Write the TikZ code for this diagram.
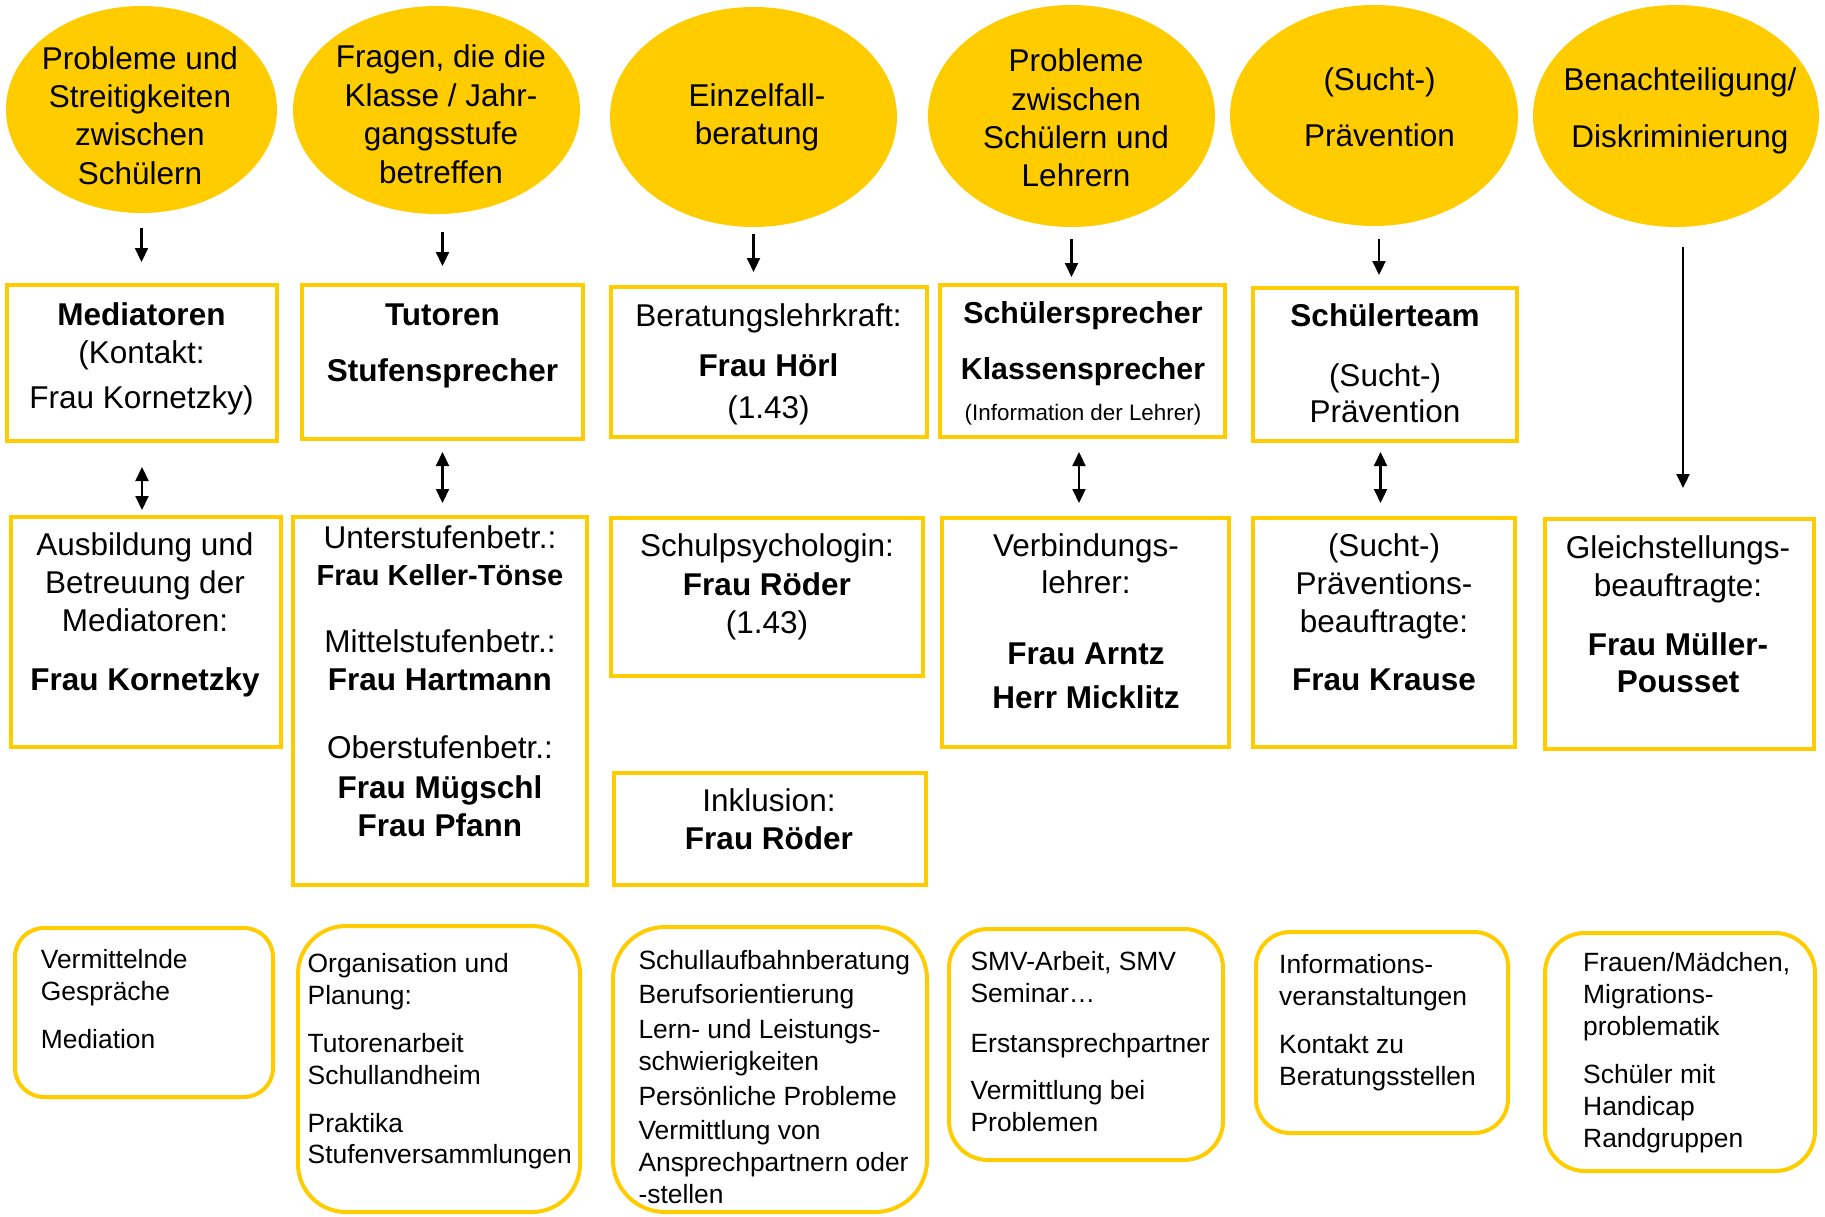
\documentclass[tikz,border=0pt]{standalone}
\usepackage{fontspec}
\setmainfont{Liberation Sans}
\usetikzlibrary{shapes.geometric,arrows.meta}
\definecolor{gelb}{HTML}{FFCC00}
\newcommand{\FL}{\rule{0pt}{1em}}
\begin{document}
\begin{tikzpicture}[x=1pt,y=-1pt,
  ell/.style={ellipse, fill=gelb, draw=none, inner sep=0pt},
  rbox/.style={rectangle, draw=gelb, line width=4pt, inner sep=0pt},
  qbox/.style={rectangle, rounded corners=#1, draw=gelb, line width=4pt, inner sep=0pt},
  tc/.style={anchor=north, align=center, inner sep=0pt, text=black},
  tl/.style={anchor=north west, align=left, inner sep=0pt, text=black},
  fsz/.style 2 args={font={\fontsize{#1}{#2}\selectfont}},
  arr/.style={-{Triangle[length=14pt,width=13pt]}, line width=2.2pt},
  darr/.style={{Triangle[length=14pt,width=13pt]}-{Triangle[length=14pt,width=13pt]}, line width=2.2pt}]
\useasboundingbox (0,0) rectangle (1825,1217);

% ---- ellipses ----
\node[ell, minimum width=271pt, minimum height=207pt] (e1) at (141.5,109.5) {};
\node[ell, minimum width=287pt, minimum height=208pt] (e2) at (436.5,110) {};
\node[ell, minimum width=287pt, minimum height=220pt] (e3) at (753.5,117) {};
\node[ell, minimum width=287pt, minimum height=222pt] (e4) at (1071.5,116) {};
\node[ell, minimum width=288pt, minimum height=221pt] (e5) at (1374,115.5) {};
\node[ell, minimum width=286pt, minimum height=222pt] (e6) at (1676,116) {};

\node[tc, fsz={31.5}{38.3}] (e1t) at (140,37.5) {\FL Probleme und\\Streitigkeiten\\zwischen\\Schülern};
\node[tc, fsz={31.5}{38.5}] (e2t) at (441,36.2) {\FL Fragen, die die\\Klasse / Jahr-\\gangsstufe\\betreffen};
\node[tc, fsz={31.5}{38}] (e3t) at (757,74.5) {\FL Einzelfall-\\beratung};
\node[tc, fsz={31.5}{38.3}] (e4t) at (1076,40.2) {\FL Probleme\\zwischen\\Schülern und\\Lehrern};
\node[tc, fsz={31.5}{56.7}] (e5t) at (1379.5,58.5) {\FL (Sucht-)\\Prävention};
\node[tc, fsz={31.5}{56.6}] (e6t) at (1680,59.2) {\FL Benachteiligung/\\Diskriminierung};

% ---- row 1 boxes ----
\node[rbox, minimum width=270pt, minimum height=156pt] (b1) at (142,363) {};
\node[rbox, minimum width=281pt, minimum height=154pt] (b2) at (442.5,362) {};
\node[rbox, minimum width=316pt, minimum height=150pt] (b3) at (769,362) {};
\node[rbox, minimum width=285pt, minimum height=152pt] (b4) at (1082.5,361) {};
\node[rbox, minimum width=264pt, minimum height=153pt] (b5) at (1385,364.5) {};

\node[tc, fsz={31.5}{38.5}] (b1t) at (141.5,293.5) {\FL\textbf{Mediatoren}\\(Kontakt:\\[6.5pt]Frau Kornetzky)};
\node[tc, fsz={31.5}{56.7}] (b2t) at (442.5,293.5) {\FL\textbf{Tutoren}\\\textbf{Stufensprecher}};
\node[tc, fsz={31.5}{50.5}] (b3t) at (768.5,294.5) {\FL Beratungslehrkraft:\\\textbf{Frau Hörl}\\[-9pt](1.43)};
\node[tc, fsz={30.3}{56}] (b4t) at (1083,293) {\FL\textbf{Schülersprecher}\\\textbf{Klassensprecher}\\[-14.6pt]{\fontsize{22.4}{26}\selectfont (Information der Lehrer)}};
\node[tc, fsz={31.5}{36}] (b5t) at (1385,295.2) {\FL\textbf{Schülerteam}\\[24pt](Sucht-)\\Prävention};

% ---- row 2 boxes ----
\node[rbox, minimum width=270pt, minimum height=230pt] (r1) at (146,632) {};
\node[rbox, minimum width=294pt, minimum height=368pt] (r2) at (440,701) {};
\node[rbox, minimum width=312pt, minimum height=158pt] (r3) at (767,597) {};
\node[rbox, minimum width=312pt, minimum height=112pt] (r3b) at (770,829) {};
\node[rbox, minimum width=287pt, minimum height=229pt] (r4) at (1085.5,632.5) {};
\node[rbox, minimum width=262pt, minimum height=229pt] (r5) at (1384,632.5) {};
\node[rbox, minimum width=269pt, minimum height=230pt] (r6) at (1679.5,634) {};

\node[tc, fsz={31.5}{38.3}] (r1t) at (145,523.5) {\FL Ausbildung und\\Betreuung der\\Mediatoren:\\[20pt]\textbf{Frau Kornetzky}};
\node[tc, fsz={31.5}{37.7}] (r2t) at (440,516.8) {\FL Unterstufenbetr.:\\[-1pt]{\fontsize{29}{34}\selectfont\textbf{Frau Keller-Tönse}}\\[30pt]Mittelstufenbetr.:\\\textbf{Frau Hartmann}\\[30.6pt]Oberstufenbetr.:\\[2.3pt]\textbf{Frau Mügschl}\\\textbf{Frau Pfann}};
\node[tc, fsz={31.5}{38.3}] (r3t) at (767,525.2) {\FL Schulpsychologin:\\\textbf{Frau Röder}\\(1.43)};
\node[tc, fsz={31.5}{37.6}] (r3bt) at (769,780.2) {\FL Inklusion:\\\textbf{Frau Röder}};
\node[tc, fsz={31.5}{36.6}] (r4t) at (1086,525.2) {\FL Verbindungs-\\lehrer:\\[34.1pt]\textbf{Frau Arntz}\\[7.7pt]\textbf{Herr Micklitz}};
\node[tc, fsz={31.5}{38}] (r5t) at (1384,525.2) {\FL (Sucht-)\\Präventions-\\beauftragte:\\[19.3pt]\textbf{Frau Krause}};
\node[tc, fsz={31.5}{37.7}] (r6t) at (1678,526.8) {\FL Gleichstellungs-\\beauftragte:\\[21.3pt]\textbf{Frau Müller-}\\\textbf{Pousset}};

% ---- row 3 rounded boxes ----
\node[qbox=29pt, minimum width=258pt, minimum height=169pt] (q1) at (144,1012.5) {};
\node[qbox=48pt, minimum width=282pt, minimum height=286pt] (q2) at (439,1069) {};
\node[qbox=52pt, minimum width=314pt, minimum height=285pt] (q3) at (770,1069.5) {};
\node[qbox=39pt, minimum width=274pt, minimum height=231pt] (q4) at (1086,1044.5) {};
\node[qbox=34pt, minimum width=252pt, minimum height=201pt] (q5) at (1382,1032.5) {};
\node[qbox=40pt, minimum width=270pt, minimum height=238pt] (q6) at (1680,1052) {};

\node[tl, fsz={26.4}{31.6}] (q1t) at (40.7,941.9) {\FL Vermittelnde\\Gespräche\\[16.4pt]Mediation};
\node[tl, fsz={26.4}{31.6}] (q2t) at (307.5,946.3) {\FL Organisation und\\Planung:\\[16.5pt]Tutorenarbeit\\Schullandheim\\[16.5pt]Praktika\\Stufenversammlungen};
\node[tl, fsz={26.4}{31.7}] (q3t) at (638.3,942.6) {\FL Schullaufbahnberatung\\[3pt]Berufsorientierung\\[3pt]Lern- und Leistungs-\\schwierigkeiten\\[3pt]Persönliche Probleme\\[3pt]Vermittlung von\\Ansprechpartnern oder\\-stellen};
\node[tl, fsz={26.4}{31.4}] (q4t) at (970.4,944.3) {\FL SMV-Arbeit, SMV\\Seminar…\\[18.5pt]Erstansprechpartner\\[16.3pt]Vermittlung bei\\Problemen};
\node[tl, fsz={26.4}{31.7}] (q5t) at (1279,946.9) {\FL Informations-\\veranstaltungen\\[16.6pt]Kontakt zu\\Beratungsstellen};
\node[tl, fsz={26.4}{32}] (q6t) at (1583,944.6) {\FL Frauen/Mädchen,\\Migrations-\\problematik\\[16.3pt]Schüler mit\\Handicap\\Randgruppen};

% ---- connectors ----
\draw[arr, shorten <=15pt, shorten >=21pt] (e1.south) -- (e1.south |- b1.north);
\draw[arr, shorten <=18pt, shorten >=17pt] (b2.north |- e2.south) -- (b2.north);
\draw[arr, shorten <=7pt, shorten >=13pt] (e3.south) -- (e3.south |- b3.north);
\draw[arr, shorten <=12pt, shorten >=6pt] (e4.south) -- (e4.south |- b4.north);
\draw[arr, shorten <=13pt, shorten >=11pt] ([xshift=5pt]e5.south) -- ([xshift=5pt]e5.south |- b5.north);
\draw[arr, shorten <=20pt, shorten >=29pt] ([xshift=3.5pt]r6.north |- e6.south) -- ([xshift=3.5pt]r6.north);

\draw[darr, shorten <=24pt, shorten >=5pt] (b1.south) -- (b1.south |- r1.north);
\draw[darr, shorten <=11pt, shorten >=12pt] (b2.south) -- (b2.south |- r2.north);
\draw[darr, shorten <=13pt, shorten >=13pt] ([xshift=-3.5pt]b4.south) -- ([xshift=-3.5pt]b4.south |- r4.north);
\draw[darr, shorten <=9pt, shorten >=13pt] ([xshift=-4.5pt]b5.south) -- ([xshift=-4.5pt]b5.south |- r5.north);
\end{tikzpicture}
\end{document}
